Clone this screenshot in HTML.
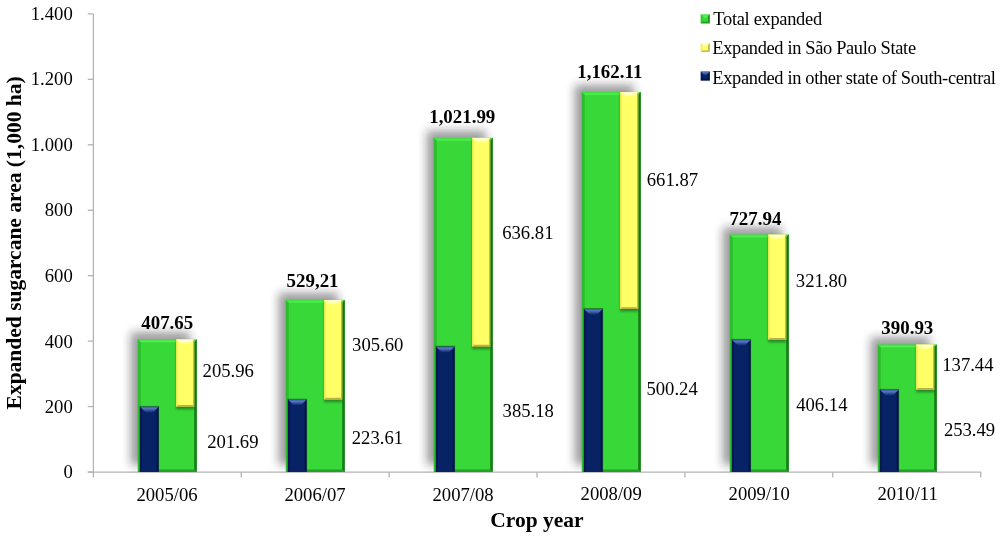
<!DOCTYPE html>
<html><head><meta charset="utf-8"><style>
html,body{margin:0;padding:0;background:#fff;width:1000px;height:539px;overflow:hidden}
svg{display:block;will-change:transform}
text{font-family:"Liberation Serif",serif;fill:#000}
.b{font-weight:bold}
</style></head><body>
<svg width="1000" height="539" viewBox="0 0 1000 539">
<defs>
<filter id="sh" x="-50%" y="-50%" width="200%" height="200%">
<feGaussianBlur stdDeviation="5"/>
</filter>
<filter id="sh3" x="-50%" y="-50%" width="200%" height="200%"><feGaussianBlur stdDeviation="0.6"/></filter>
<filter id="sh2" x="-50%" y="-50%" width="200%" height="200%"><feGaussianBlur stdDeviation="0.8"/></filter>
<linearGradient id="hiG" x1="0" y1="0" x2="0" y2="1">
<stop offset="0" stop-color="#60ff60" stop-opacity="0.1"/><stop offset="0.6" stop-color="#60ff60" stop-opacity="0.6"/><stop offset="1" stop-color="#60ff60" stop-opacity="0"/>
</linearGradient>
<linearGradient id="hiN" x1="0" y1="0" x2="0" y2="1">
<stop offset="0" stop-color="#6a8ad8" stop-opacity="0.55"/><stop offset="0.3" stop-color="#6a8ad8" stop-opacity="0.8"/><stop offset="0.6" stop-color="#6a8ad8" stop-opacity="0.45"/><stop offset="1" stop-color="#6a8ad8" stop-opacity="0"/>
</linearGradient>
<linearGradient id="hiY" x1="0" y1="0" x2="0" y2="1">
<stop offset="0" stop-color="#ffffe8" stop-opacity="0.6"/><stop offset="0.3" stop-color="#ffffe8" stop-opacity="0.9"/><stop offset="1" stop-color="#ffffe8" stop-opacity="0"/>
</linearGradient>
<linearGradient id="hiG2" x1="0" y1="0" x2="0" y2="1">
<stop offset="0" stop-color="#60ff60" stop-opacity="0.3"/><stop offset="0.6" stop-color="#60ff60" stop-opacity="0.7"/><stop offset="1" stop-color="#60ff60" stop-opacity="0.2"/>
</linearGradient>
</defs>
<rect width="1000" height="539" fill="#fff"/>

<g stroke="#b4b4b4" stroke-width="1.3" fill="none">
<line x1="93.4" y1="13.9" x2="93.4" y2="477.5"/>
<line x1="87.8" y1="472.1" x2="981.2" y2="472.1" stroke-width="1.15"/>
<line x1="87.8" y1="472.00" x2="93.4" y2="472.00"/>
<line x1="87.8" y1="406.56" x2="93.4" y2="406.56"/>
<line x1="87.8" y1="341.11" x2="93.4" y2="341.11"/>
<line x1="87.8" y1="275.67" x2="93.4" y2="275.67"/>
<line x1="87.8" y1="210.23" x2="93.4" y2="210.23"/>
<line x1="87.8" y1="144.79" x2="93.4" y2="144.79"/>
<line x1="87.8" y1="79.34" x2="93.4" y2="79.34"/>
<line x1="87.8" y1="13.90" x2="93.4" y2="13.90"/>
<line x1="241.28" y1="472.0" x2="241.28" y2="477.5"/>
<line x1="389.16" y1="472.0" x2="389.16" y2="477.5"/>
<line x1="537.04" y1="472.0" x2="537.04" y2="477.5"/>
<line x1="684.92" y1="472.0" x2="684.92" y2="477.5"/>
<line x1="832.80" y1="472.0" x2="832.80" y2="477.5"/>
<line x1="980.68" y1="472.0" x2="980.68" y2="477.5"/>
</g>
<text id="yl0" x="72.77" y="477.89" font-size="18.67" text-anchor="end">0</text>
<text id="yl1" x="72.77" y="413.18" font-size="18.67" text-anchor="end">200</text>
<text id="yl2" x="72.77" y="347.70" font-size="18.67" text-anchor="end">400</text>
<text id="yl3" x="72.77" y="281.77" font-size="18.67" text-anchor="end">600</text>
<text id="yl4" x="72.77" y="216.38" font-size="18.67" text-anchor="end">800</text>
<text id="yl5" x="72.77" y="151.12" font-size="18.67" text-anchor="end">1.000</text>
<text id="yl6" x="72.77" y="85.29" font-size="18.67" text-anchor="end">1.200</text>
<text id="yl7" x="72.74" y="20.20" font-size="18.67" text-anchor="end">1.400</text>
<rect x="130.8" y="332.3" width="59.0" height="132.7" fill="#16121a" opacity="0.43" filter="url(#sh)"/>
<rect x="137.8" y="339.3" width="59.0" height="132.7" fill="#38d838"/>
<polygon points="137.80,339.30 140.80,342.30 140.80,469.00 137.80,472.00" fill="#1a8a1a" opacity="0.35"/>
<polygon points="137.80,472.00 140.40,469.40 194.20,469.40 196.80,472.00" fill="#0e600e" opacity="0.45"/>
<polygon points="196.80,339.30 196.80,472.00 194.20,469.40 194.20,341.90" fill="#0e620e" opacity="0.78"/>
<polygon points="137.80,339.30 196.80,339.30 193.20,342.90 141.40,342.90" fill="url(#hiG)" opacity="1"/>
<rect x="139.5" y="405.9089261600001" width="19.599999999999994" height="66.09107383999995" fill="#0a300a" opacity="0.5" filter="url(#sh3)"/>
<rect x="140.0" y="406.80892616000006" width="18.599999999999994" height="65.19107383999994" fill="#072265"/>
<polygon points="140.00,406.81 142.00,408.81 142.00,470.00 140.00,472.00" fill="#000626" opacity="0.35"/>
<polygon points="158.60,406.81 158.60,472.00 156.60,470.00 156.60,408.81" fill="#000626" opacity="0.45"/>
<polygon points="140.00,406.81 158.60,406.81 152.60,412.81 146.00,412.81" fill="url(#hiN)" opacity="1"/>
<rect x="176.1" y="340.3" width="18.200000000000017" height="69.00892616000004" fill="#0a300a" opacity="0.45" filter="url(#sh2)"/>
<rect x="176.1" y="339.3" width="18.200000000000017" height="67.50892616000004" fill="#ffff66"/>
<polygon points="176.10,339.30 178.10,341.30 178.10,404.81 176.10,406.81" fill="#d8d030" opacity="0.3"/>
<polygon points="194.30,339.30 194.30,406.81 193.10,405.61 193.10,340.50" fill="#8a8030" opacity="0.6"/>
<polygon points="176.10,406.81 177.90,405.01 192.50,405.01 194.30,406.81" fill="#8a7030" opacity="0.55"/>
<polygon points="176.10,339.30 194.30,339.30 189.30,344.30 181.10,344.30" fill="url(#hiY)" opacity="1"/>
<rect x="278.8" y="292.9" width="59.0" height="172.10000000000002" fill="#16121a" opacity="0.43" filter="url(#sh)"/>
<rect x="285.8" y="299.9" width="59.0" height="172.10000000000002" fill="#38d838"/>
<polygon points="285.80,299.90 288.80,302.90 288.80,469.00 285.80,472.00" fill="#1a8a1a" opacity="0.35"/>
<polygon points="285.80,472.00 288.40,469.40 342.20,469.40 344.80,472.00" fill="#0e600e" opacity="0.45"/>
<polygon points="344.80,299.90 344.80,472.00 342.20,469.40 342.20,302.50" fill="#0e620e" opacity="0.78"/>
<polygon points="285.80,299.90 344.80,299.90 341.20,303.50 289.40,303.50" fill="url(#hiG)" opacity="1"/>
<rect x="287.5" y="398.72495304000006" width="19.600000000000023" height="73.27504695999997" fill="#0a300a" opacity="0.5" filter="url(#sh3)"/>
<rect x="288.0" y="399.62495304000004" width="18.600000000000023" height="72.37504695999996" fill="#072265"/>
<polygon points="288.00,399.62 290.00,401.62 290.00,470.00 288.00,472.00" fill="#000626" opacity="0.35"/>
<polygon points="306.60,399.62 306.60,472.00 304.60,470.00 304.60,401.62" fill="#000626" opacity="0.45"/>
<polygon points="288.00,399.62 306.60,399.62 300.60,405.62 294.00,405.62" fill="url(#hiN)" opacity="1"/>
<rect x="324.1" y="300.9" width="18.19999999999999" height="101.22495304000006" fill="#0a300a" opacity="0.45" filter="url(#sh2)"/>
<rect x="324.1" y="299.9" width="18.19999999999999" height="99.72495304000006" fill="#ffff66"/>
<polygon points="324.10,299.90 326.10,301.90 326.10,397.62 324.10,399.62" fill="#d8d030" opacity="0.3"/>
<polygon points="342.30,299.90 342.30,399.62 341.10,398.42 341.10,301.10" fill="#8a8030" opacity="0.6"/>
<polygon points="324.10,399.62 325.90,397.82 340.50,397.82 342.30,399.62" fill="#8a7030" opacity="0.55"/>
<polygon points="324.10,299.90 342.30,299.90 337.30,304.90 329.10,304.90" fill="url(#hiY)" opacity="1"/>
<rect x="426.8" y="130.87" width="59.0" height="334.13" fill="#16121a" opacity="0.43" filter="url(#sh)"/>
<rect x="433.8" y="137.87" width="59.0" height="334.13" fill="#38d838"/>
<polygon points="433.80,137.87 436.80,140.87 436.80,469.00 433.80,472.00" fill="#1a8a1a" opacity="0.35"/>
<polygon points="433.80,472.00 436.40,469.40 490.20,469.40 492.80,472.00" fill="#0e600e" opacity="0.45"/>
<polygon points="492.80,137.87 492.80,472.00 490.20,469.40 490.20,140.47" fill="#0e620e" opacity="0.78"/>
<polygon points="433.80,137.87 492.80,137.87 489.20,141.47 437.40,141.47" fill="url(#hiG)" opacity="1"/>
<rect x="435.5" y="345.77264752" width="19.600000000000023" height="126.22735248000001" fill="#0a300a" opacity="0.5" filter="url(#sh3)"/>
<rect x="436.0" y="346.67264752" width="18.600000000000023" height="125.32735248" fill="#072265"/>
<polygon points="436.00,346.67 438.00,348.67 438.00,470.00 436.00,472.00" fill="#000626" opacity="0.35"/>
<polygon points="454.60,346.67 454.60,472.00 452.60,470.00 452.60,348.67" fill="#000626" opacity="0.45"/>
<polygon points="436.00,346.67 454.60,346.67 448.60,352.67 442.00,352.67" fill="url(#hiN)" opacity="1"/>
<rect x="472.1" y="138.87" width="18.19999999999999" height="210.30264752" fill="#0a300a" opacity="0.45" filter="url(#sh2)"/>
<rect x="472.1" y="137.87" width="18.19999999999999" height="208.80264752" fill="#ffff66"/>
<polygon points="472.10,137.87 474.10,139.87 474.10,344.67 472.10,346.67" fill="#d8d030" opacity="0.3"/>
<polygon points="490.30,137.87 490.30,346.67 489.10,345.47 489.10,139.07" fill="#8a8030" opacity="0.6"/>
<polygon points="472.10,346.67 473.90,344.87 488.50,344.87 490.30,346.67" fill="#8a7030" opacity="0.55"/>
<polygon points="472.10,137.87 490.30,137.87 485.30,142.87 477.10,142.87" fill="url(#hiY)" opacity="1"/>
<rect x="574.8" y="85.0" width="59.0" height="380.0" fill="#16121a" opacity="0.43" filter="url(#sh)"/>
<rect x="581.8" y="92.0" width="59.0" height="380.0" fill="#38d838"/>
<polygon points="581.80,92.00 584.80,95.00 584.80,469.00 581.80,472.00" fill="#1a8a1a" opacity="0.35"/>
<polygon points="581.80,472.00 584.40,469.40 638.20,469.40 640.80,472.00" fill="#0e600e" opacity="0.45"/>
<polygon points="640.80,92.00 640.80,472.00 638.20,469.40 638.20,94.60" fill="#0e620e" opacity="0.78"/>
<polygon points="581.80,92.00 640.80,92.00 637.20,95.60 585.40,95.60" fill="url(#hiG)" opacity="1"/>
<rect x="583.5" y="308.06334336000003" width="19.600000000000023" height="163.93665664" fill="#0a300a" opacity="0.5" filter="url(#sh3)"/>
<rect x="584.0" y="308.96334336" width="18.600000000000023" height="163.03665664" fill="#072265"/>
<polygon points="584.00,308.96 586.00,310.96 586.00,470.00 584.00,472.00" fill="#000626" opacity="0.35"/>
<polygon points="602.60,308.96 602.60,472.00 600.60,470.00 600.60,310.96" fill="#000626" opacity="0.45"/>
<polygon points="584.00,308.96 602.60,308.96 596.60,314.96 590.00,314.96" fill="url(#hiN)" opacity="1"/>
<rect x="620.1" y="93.0" width="18.199999999999932" height="218.46334336" fill="#0a300a" opacity="0.45" filter="url(#sh2)"/>
<rect x="620.1" y="92.0" width="18.199999999999932" height="216.96334336" fill="#ffff66"/>
<polygon points="620.10,92.00 622.10,94.00 622.10,306.96 620.10,308.96" fill="#d8d030" opacity="0.3"/>
<polygon points="638.30,92.00 638.30,308.96 637.10,307.76 637.10,93.20" fill="#8a8030" opacity="0.6"/>
<polygon points="620.10,308.96 621.90,307.16 636.50,307.16 638.30,308.96" fill="#8a7030" opacity="0.55"/>
<polygon points="620.10,92.00 638.30,92.00 633.30,97.00 625.10,97.00" fill="url(#hiY)" opacity="1"/>
<rect x="722.8" y="227.46" width="59.0" height="237.54" fill="#16121a" opacity="0.43" filter="url(#sh)"/>
<rect x="729.8" y="234.46" width="59.0" height="237.54" fill="#38d838"/>
<polygon points="729.80,234.46 732.80,237.46 732.80,469.00 729.80,472.00" fill="#1a8a1a" opacity="0.35"/>
<polygon points="729.80,472.00 732.40,469.40 786.20,469.40 788.80,472.00" fill="#0e600e" opacity="0.45"/>
<polygon points="788.80,234.46 788.80,472.00 786.20,469.40 786.20,237.06" fill="#0e620e" opacity="0.78"/>
<polygon points="729.80,234.46 788.80,234.46 785.20,238.06 733.40,238.06" fill="url(#hiG)" opacity="1"/>
<rect x="731.5" y="338.90330096" width="19.600000000000023" height="133.09669904" fill="#0a300a" opacity="0.5" filter="url(#sh3)"/>
<rect x="732.0" y="339.80330096" width="18.600000000000023" height="132.19669904" fill="#072265"/>
<polygon points="732.00,339.80 734.00,341.80 734.00,470.00 732.00,472.00" fill="#000626" opacity="0.35"/>
<polygon points="750.60,339.80 750.60,472.00 748.60,470.00 748.60,341.80" fill="#000626" opacity="0.45"/>
<polygon points="732.00,339.80 750.60,339.80 744.60,345.80 738.00,345.80" fill="url(#hiN)" opacity="1"/>
<rect x="768.1" y="235.46" width="18.199999999999932" height="106.84330096" fill="#0a300a" opacity="0.45" filter="url(#sh2)"/>
<rect x="768.1" y="234.46" width="18.199999999999932" height="105.34330096" fill="#ffff66"/>
<polygon points="768.10,234.46 770.10,236.46 770.10,337.80 768.10,339.80" fill="#d8d030" opacity="0.3"/>
<polygon points="786.30,234.46 786.30,339.80 785.10,338.60 785.10,235.66" fill="#8a8030" opacity="0.6"/>
<polygon points="768.10,339.80 769.90,338.00 784.50,338.00 786.30,339.80" fill="#8a7030" opacity="0.55"/>
<polygon points="768.10,234.46 786.30,234.46 781.30,239.46 773.10,239.46" fill="url(#hiY)" opacity="1"/>
<rect x="870.8" y="337.4" width="59.0" height="127.60000000000002" fill="#16121a" opacity="0.43" filter="url(#sh)"/>
<rect x="877.8" y="344.4" width="59.0" height="127.60000000000002" fill="#38d838"/>
<polygon points="877.80,344.40 880.80,347.40 880.80,469.00 877.80,472.00" fill="#1a8a1a" opacity="0.35"/>
<polygon points="877.80,472.00 880.40,469.40 934.20,469.40 936.80,472.00" fill="#0e600e" opacity="0.45"/>
<polygon points="936.80,344.40 936.80,472.00 934.20,469.40 934.20,347.00" fill="#0e620e" opacity="0.78"/>
<polygon points="877.80,344.40 936.80,344.40 933.20,348.00 881.40,348.00" fill="url(#hiG)" opacity="1"/>
<rect x="879.5" y="388.93220136" width="19.600000000000023" height="83.06779864" fill="#0a300a" opacity="0.5" filter="url(#sh3)"/>
<rect x="880.0" y="389.83220136" width="18.600000000000023" height="82.16779864" fill="#072265"/>
<polygon points="880.00,389.83 882.00,391.83 882.00,470.00 880.00,472.00" fill="#000626" opacity="0.35"/>
<polygon points="898.60,389.83 898.60,472.00 896.60,470.00 896.60,391.83" fill="#000626" opacity="0.45"/>
<polygon points="880.00,389.83 898.60,389.83 892.60,395.83 886.00,395.83" fill="url(#hiN)" opacity="1"/>
<rect x="916.1" y="345.4" width="18.199999999999932" height="46.93220136000002" fill="#0a300a" opacity="0.45" filter="url(#sh2)"/>
<rect x="916.1" y="344.4" width="18.199999999999932" height="45.43220136000002" fill="#ffff66"/>
<polygon points="916.10,344.40 918.10,346.40 918.10,387.83 916.10,389.83" fill="#d8d030" opacity="0.3"/>
<polygon points="934.30,344.40 934.30,389.83 933.10,388.63 933.10,345.60" fill="#8a8030" opacity="0.6"/>
<polygon points="916.10,389.83 917.90,388.03 932.50,388.03 934.30,389.83" fill="#8a7030" opacity="0.55"/>
<polygon points="916.10,344.40 934.30,344.40 929.30,349.40 921.10,349.40" fill="url(#hiY)" opacity="1"/>
<text id="tot0" class="b" x="141.29" y="328.94" font-size="18.9">407.65</text>
<text id="yel0" x="202.62" y="377.34" font-size="18.67">205.96</text>
<text id="nav0" x="207.17" y="448.00" font-size="18.67">201.69</text>
<text id="cat0" x="166.99" y="500.70" font-size="18.67" text-anchor="middle">2005/06</text>
<text id="tot1" class="b" x="286.62" y="287.03" font-size="18.9">529,21</text>
<text id="yel1" x="352.08" y="351.42" font-size="18.67">305.60</text>
<text id="nav1" x="351.78" y="443.89" font-size="18.67">223.61</text>
<text id="cat1" x="315.00" y="500.70" font-size="18.67" text-anchor="middle">2006/07</text>
<text id="tot2" class="b" x="429.20" y="122.63" font-size="18.9">1,021.99</text>
<text id="yel2" x="502.18" y="238.84" font-size="18.67">636.81</text>
<text id="nav2" x="502.58" y="417.34" font-size="18.67">385.18</text>
<text id="cat2" x="463.11" y="500.70" font-size="18.67" text-anchor="middle">2007/08</text>
<text id="tot3" class="b" x="577.25" y="77.54" font-size="18.9">1,162.11</text>
<text id="yel3" x="646.75" y="186.12" font-size="18.67">661.87</text>
<text id="nav3" x="646.41" y="394.90" font-size="18.67">500.24</text>
<text id="cat3" x="611.17" y="500.20" font-size="18.67" text-anchor="middle">2008/09</text>
<text id="tot4" class="b" x="729.43" y="224.77" font-size="18.9">727.94</text>
<text id="yel4" x="795.84" y="286.88" font-size="18.67">321.80</text>
<text id="nav4" x="796.19" y="411.42" font-size="18.67">406.14</text>
<text id="cat4" x="759.16" y="500.20" font-size="18.67" text-anchor="middle">2009/10</text>
<text id="tot5" class="b" x="881.33" y="334.47" font-size="18.9">390.93</text>
<text id="yel5" x="942.23" y="371.16" font-size="18.67">137.44</text>
<text id="nav5" x="943.89" y="436.42" font-size="18.67">253.49</text>
<text id="cat5" x="907.61" y="500.32" font-size="18.67" text-anchor="middle">2010/11</text>
<text id="xt" class="b" x="536.92" y="527.01" font-size="21.5" text-anchor="middle">Crop year</text>
<text id="ytl" class="b" transform="translate(21.40,242.90) rotate(-90)" x="0" y="0" font-size="21.5" text-anchor="middle">Expanded sugarcane area (1,000 ha)</text>
<rect x="700.7" y="14.3" width="9.1" height="9.1" fill="#38d838"/>
<polygon points="700.70,14.30 702.20,15.80 702.20,21.90 700.70,23.40" fill="#1a8a1a" opacity="0.3"/>
<polygon points="709.80,14.30 709.80,23.40 708.00,21.60 708.00,16.10" fill="#0e620e" opacity="0.55"/>
<polygon points="700.70,23.40 702.50,21.60 708.00,21.60 709.80,23.40" fill="#0e620e" opacity="0.45"/>
<polygon points="700.70,14.30 709.80,14.30 705.60,18.50 704.90,18.50" fill="url(#hiG2)" opacity="1"/>
<text id="lg0" x="713.37" y="24.94" font-size="18.4" textLength="108.71" lengthAdjust="spacing">Total expanded</text>
<rect x="700.7" y="42.9" width="9.1" height="9.1" fill="#ffff66"/>
<polygon points="700.70,42.90 702.20,44.40 702.20,50.50 700.70,52.00" fill="#c8c040" opacity="0.3"/>
<polygon points="709.80,42.90 709.80,52.00 708.00,50.20 708.00,44.70" fill="#8a8030" opacity="0.55"/>
<polygon points="700.70,52.00 702.50,50.20 708.00,50.20 709.80,52.00" fill="#8a8030" opacity="0.45"/>
<polygon points="700.70,42.90 709.80,42.90 705.60,47.10 704.90,47.10" fill="url(#hiY)" opacity="1"/>
<text id="lg1" x="712.37" y="53.83" font-size="18.4" textLength="203.68" lengthAdjust="spacing">Expanded in São Paulo State</text>
<rect x="700.7" y="71.5" width="9.1" height="9.1" fill="#072265"/>
<polygon points="700.70,71.50 702.20,73.00 702.20,79.10 700.70,80.60" fill="#000626" opacity="0.3"/>
<polygon points="709.80,71.50 709.80,80.60 708.00,78.80 708.00,73.30" fill="#000626" opacity="0.55"/>
<polygon points="700.70,80.60 702.50,78.80 708.00,78.80 709.80,80.60" fill="#000626" opacity="0.45"/>
<polygon points="700.70,71.50 709.80,71.50 705.60,75.70 704.90,75.70" fill="url(#hiN)" opacity="1"/>
<text id="lg2" x="712.37" y="84.30" font-size="18.4" textLength="283.52" lengthAdjust="spacing">Expanded in other state of South-central</text>
</svg></body></html>
